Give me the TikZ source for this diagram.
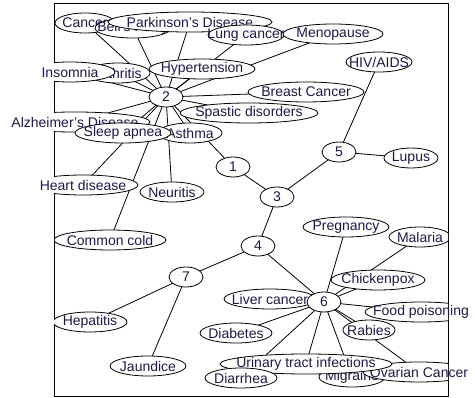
\documentclass[tikz,border=0pt]{standalone}
\usepackage{fontspec}
\setmainfont{Liberation Sans}
\definecolor{inkc}{RGB}{30,25,70}
\pgfdeclarelayer{bg}
\pgfsetlayers{bg,main}
% one vertex: white ellipse kept inside the frame, label on top
% #1 name, #2 x, #3 y, #4 half width, #5 label
\newcommand\dnode[5]{%
  \begin{scope}
    \clip (54,3) rectangle (448,396);
    \draw[edgeln, fill=white] (#2,#3) ellipse [x radius=#4, y radius=10];
  \end{scope}
  \node[lbl] (#1) at (#2,#3) {#5};}
\begin{document}
\begin{tikzpicture}[x=1pt,y=-1pt,
  lbl/.style={inner sep=0pt, font=\fontsize{14}{15}\selectfont, text=inkc},
  edgeln/.style={line width=0.8pt, black}]
\useasboundingbox (0,0) rectangle (475,398);

% upper cluster
\dnode{cancer}{85}{23}{30}{Cancer}
\dnode{bell}{133}{28}{38}{Bell's Palsy}
\dnode{park}{190}{22}{82}{Parkinson's Disease}
\dnode{lung}{246}{35}{38}{Lung cancer}
\dnode{meno}{333}{34}{50}{Menopause}
\dnode{arth}{118}{73}{32}{Arthritis}
\dnode{insom}{70}{72}{45}{Insomnia}
\dnode{hyper}{202}{69}{53}{Hypertension}
\dnode{breast}{306}{92}{58}{Breast Cancer}
\dnode{spastic}{249}{113}{69}{Spastic disorders}
\dnode{n2}{166}{97}{17}{2}
\dnode{alz}{75}{122}{75}{Alzheimer's Disease}
\dnode{asthma}{190}{133}{32}{Asthma}
\dnode{sleep}{123}{133}{48}{Sleep apnea}
\dnode{heart}{83}{185}{55}{Heart disease}
\dnode{neur}{172}{192}{32}{Neuritis}
\dnode{cold}{110}{240}{56}{Common cold}

% middle chain
\dnode{n1}{233}{167}{17}{1}
\dnode{n3}{277}{197}{17}{3}
\dnode{n5}{339}{152}{17}{5}
\dnode{hiv}{379}{62}{33}{HIV/AIDS}
\dnode{lupus}{411}{158}{27}{Lupus}
\dnode{n4}{258}{246}{17}{4}
\dnode{n7}{186}{277}{17}{7}
\dnode{hep}{90}{322}{37}{Hepatitis}
\dnode{jaun}{148}{366}{38}{Jaundice}

% lower cluster
\dnode{preg}{346}{227}{43}{Pregnancy}
\dnode{malaria}{420}{237}{31}{Malaria}
\dnode{chick}{378}{280}{47}{Chickenpox}
\dnode{liver}{270}{299}{46}{Liver cancer}
\dnode{n6}{324}{302}{17}{6}
\dnode{food}{421}{312}{56}{Food poisoning}
\dnode{rabies}{369}{330}{26}{Rabies}
\dnode{diab}{236}{333}{36}{Diabetes}
\dnode{migr}{352}{377}{33}{Migraine}
\dnode{ovar}{419}{372}{56}{Ovarian Cancer}
\dnode{uti}{306}{364}{86}{Urinary tract infections}
\dnode{diarr}{241}{378}{36}{Diarrhea}

\begin{pgfonlayer}{bg}
  \fill[white] (0,0) rectangle (475,398);
  \draw[edgeln] (54,3) rectangle (448,396);
  \foreach \t in {cancer,bell,park,lung,meno,insom,arth,hyper,breast,
                  spastic,alz,sleep,asthma,heart,neur,cold,n1}
    \draw[edgeln] (n2.center) -- (\t.center);
  \draw[edgeln] (n1.center) -- (n3.center);
  \draw[edgeln] (n3.center) -- (n5.center);
  \draw[edgeln] (n3.center) -- (n4.center);
  \draw[edgeln] (n5.center) -- (hiv.center);
  \draw[edgeln] (n5.center) -- (lupus.center);
  \draw[edgeln] (n4.center) -- (n7.center);
  \draw[edgeln] (n4.center) -- (n6.center);
  \draw[edgeln] (n7.center) -- (hep.center);
  \draw[edgeln] (n7.center) -- (jaun.center);
  \foreach \t in {preg,malaria,chick,liver,food,rabies,diab,migr,ovar,uti,diarr}
    \draw[edgeln] (n6.center) -- (\t.center);
\end{pgfonlayer}
\end{tikzpicture}
\end{document}
